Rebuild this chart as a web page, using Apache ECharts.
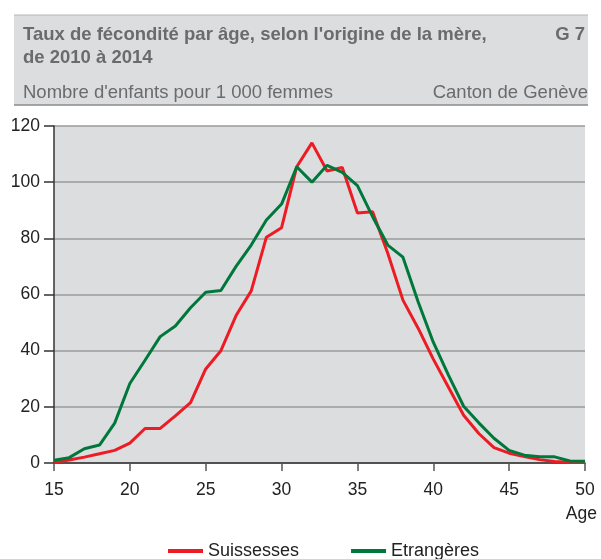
<!DOCTYPE html>
<html>
<head>
<meta charset="utf-8">
<script src="https://cdn.jsdelivr.net/npm/echarts@6/dist/echarts.min.js"></script>
<style>
html,body{margin:0;padding:0;background:#fff;}
#chart{width:601px;height:559px;}
</style>
</head>
<body>
<div id="chart"></div>
<script>
var ages = [15,16,17,18,19,20,21,22,23,24,25,26,27,28,29,30,31,32,33,34,35,36,37,38,39,40,41,42,43,44,45,46,47,48,49,50];
var suissesses = [0.3,1.1,2.1,3.3,4.5,7.1,12.3,12.3,16.8,21.5,33.5,40,52.5,61.3,80.4,83.8,105.5,114,104,105.2,89,89.5,74.7,58,48,37,27,17,10.5,5.5,3.5,2.3,1.2,0.5,0.3,0.2];
var etrangeres = [1.0,1.9,5.1,6.4,14.2,28.3,36.6,45,48.8,55.3,60.8,61.4,70,77.6,86.5,92.2,105.5,100,106,103.5,98.8,87.7,77.6,73.3,57.4,43,31.3,20.2,14.3,8.8,4.5,2.8,2.2,2.2,0.7,0.6];
var seriesNames = ['Suissesses','Etrangères'];
var titleLines = ["Taux de fécondité par âge, selon l'origine de la mère,", "de 2010 à 2014"];
var chartCode = 'G 7';
var unitText = "Nombre d'enfants pour 1 000 femmes";
var regionText = 'Canton de Genève';
var xAxisName = 'Age';

var FONT = '"Liberation Sans", Arial, sans-serif';
function pairs(vals){ return ages.map(function(a,i){ return [a, vals[i]]; }); }

var chart = echarts.init(document.getElementById('chart'), null, {renderer:'canvas'});
chart.setOption({
  animation:false,
  backgroundColor:'#ffffff',
  textStyle:{fontFamily:FONT},
  grid:{left:54, right:16, top:126, bottom:96, show:true, backgroundColor:'#dcdddf', borderWidth:0},
  graphic:[
    {type:'rect', shape:{x:14,y:15,width:574,height:90}, style:{fill:'#dcdddf'}, silent:true, z:0},
    {type:'line', shape:{x1:14,y1:15,x2:588,y2:15}, style:{stroke:'#b5b5b5', lineWidth:1}, z:1},
    {type:'line', shape:{x1:14,y1:105,x2:588,y2:105}, style:{stroke:'#8a8a8a', lineWidth:1.5}, z:1},
    {type:'text', left:23, top:25, style:{text:titleLines[0], font:'bold 18.5px '+FONT, fill:'#6b6b6b'}, z:2},
    {type:'text', left:23, top:48, style:{text:titleLines[1], font:'bold 18.5px '+FONT, fill:'#6b6b6b'}, z:2},
    {type:'text', right:16, top:25, style:{text:chartCode, font:'bold 18.5px '+FONT, fill:'#6b6b6b'}, z:2},
    {type:'text', left:23, top:83, style:{text:unitText, font:'18.5px '+FONT, fill:'#6b6b6b'}, z:2},
    {type:'text', right:13, top:83, style:{text:regionText, font:'18.5px '+FONT, fill:'#6b6b6b'}, z:2},
    {type:'text', right:4, top:505, style:{text:xAxisName, font:'17.5px '+FONT, fill:'#222'}, z:2}
  ],
  legend:{
    data:seriesNames, left:163, top:537, itemWidth:35, itemHeight:4, itemGap:52, icon:'rect',
    textStyle:{fontSize:18, color:'#222', fontFamily:FONT}
  },
  xAxis:{
    type:'value', min:15, max:50, interval:5,
    axisLine:{show:true, onZero:false, lineStyle:{color:'#333', width:1.5}},
    axisTick:{show:true, length:8, lineStyle:{color:'#555', width:1.5}},
    axisLabel:{fontSize:17.5, color:'#222', margin:18, fontFamily:FONT},
    splitLine:{show:false}
  },
  yAxis:{
    type:'value', min:0, max:120, interval:20,
    axisLine:{show:true, lineStyle:{color:'#333', width:1.5}},
    axisTick:{show:true, length:10, lineStyle:{color:'#333', width:1.5}},
    axisLabel:{fontSize:17.5, color:'#222', margin:14, fontFamily:FONT},
    splitLine:{show:true, lineStyle:{color:'#9a9a9a', width:1.5}}
  },
  series:[
    {name:seriesNames[0], type:'line', data:pairs(suissesses), showSymbol:false, symbol:'none',
     lineStyle:{color:'#ed1c24', width:3}, itemStyle:{color:'#ed1c24'}, z:3},
    {name:seriesNames[1], type:'line', data:pairs(etrangeres), showSymbol:false, symbol:'none',
     lineStyle:{color:'#00783c', width:3}, itemStyle:{color:'#00783c'}, z:4}
  ]
});
</script>
</body>
</html>
